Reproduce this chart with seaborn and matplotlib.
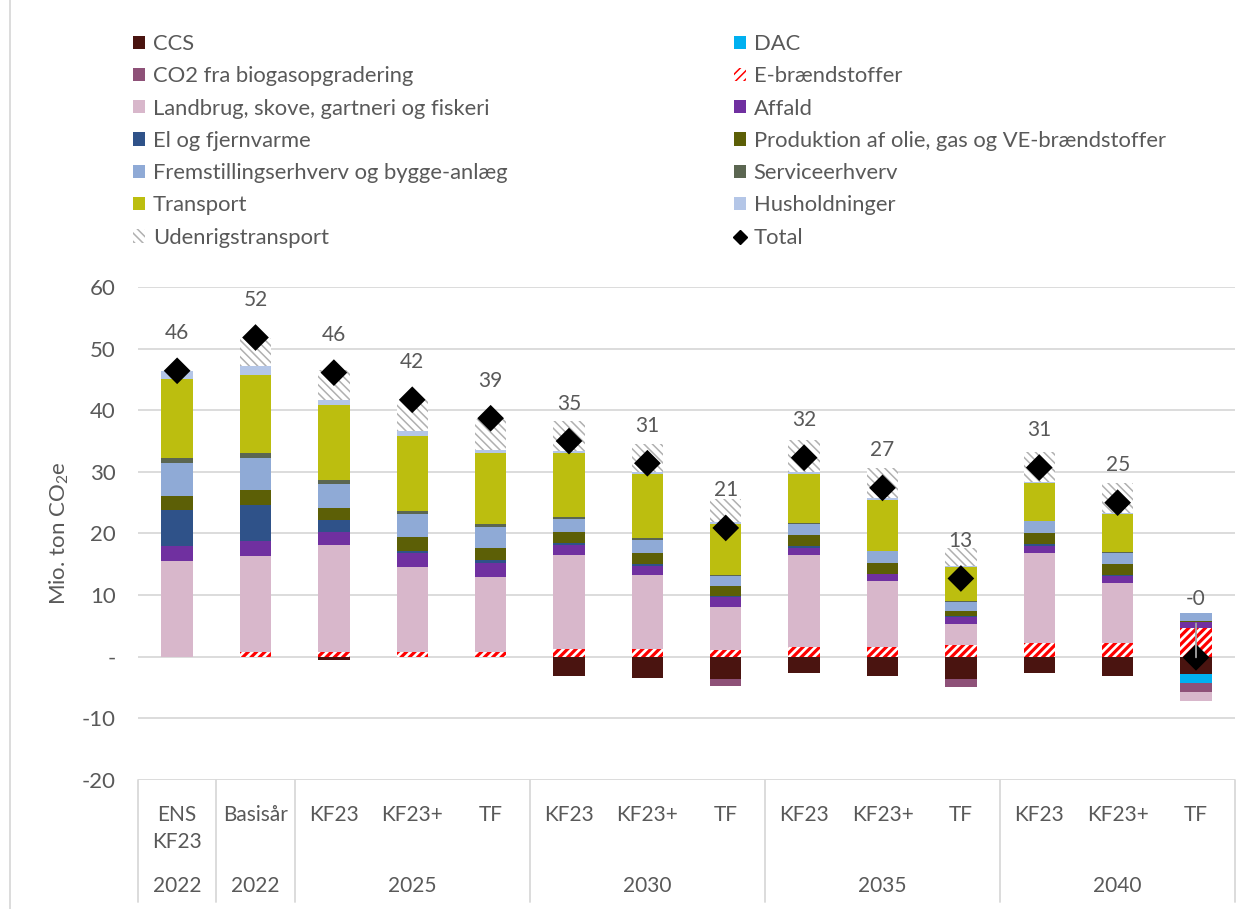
import numpy as np
import matplotlib
matplotlib.use("Agg")
import matplotlib.pyplot as plt
from matplotlib.patches import Patch
from matplotlib.lines import Line2D
from matplotlib.ticker import FuncFormatter
import seaborn as sns

# ── Data (Mio. ton CO2e) ──────────────────────────────────────────────────────
scenarios  = ["ENS\nKF23", "Basisår", "KF23", "KF23+", "TF", "KF23", "KF23+", "TF",
              "KF23", "KF23+", "TF", "KF23", "KF23+", "TF"]
years      = ["2022", "2022", "2025", "2030", "2035", "2040"]
year_sizes = [1, 1, 3, 3, 3, 3]

ccs        = [0, 0, -0.5, 0, 0, -3.2, -3.4, -3.6, -2.7, -3.2, -3.6, -2.7, -3.2, -2.8]
dac        = [0, 0, 0, 0, 0, 0, 0, 0, 0, 0, 0, 0, 0, -1.5]
biogas     = [0, 0, 0, 0, 0, 0, 0, -1.2, 0, 0, -1.3, 0, 0, -1.4]
e_fuel     = [0, 0.7, 0.7, 0.7, 0.7, 1.2, 1.2, 1.1, 1.6, 1.6, 1.9, 2.2, 2.2, 4.7]
landbrug   = [15.6, 15.6, 17.5, 13.9, 12.2, 15.3, 12.1, 7.0, 14.9, 10.7, 3.4, 14.7, 9.8, -1.5]
affald     = [2.4, 2.5, 2.1, 2.2, 2.3, 1.6, 1.5, 1.6, 1.2, 1.1, 1.2, 1.1, 1.1, 0.9]
el_fjv     = [5.8, 5.9, 1.9, 0.4, 0.5, 0.3, 0.2, 0.2, 0.2, 0.1, 0.1, 0.3, 0.1, 0.0]
olie_gas   = [2.3, 2.4, 2.0, 2.2, 2.0, 1.9, 1.9, 1.5, 1.8, 1.7, 0.9, 1.8, 1.8, 0.2]
fremst     = [5.4, 5.2, 3.9, 3.8, 3.4, 2.1, 2.1, 1.7, 1.9, 1.9, 1.4, 1.9, 1.9, 1.3]
service    = [0.7, 0.7, 0.5, 0.5, 0.5, 0.2, 0.2, 0.1, 0.1, 0.1, 0.1, 0.1, 0.1, 0.0]
transport  = [12.8, 12.7, 12.2, 12.2, 11.4, 10.4, 10.4, 8.4, 8.0, 8.2, 5.6, 6.1, 6.1, 0.0]
husholdn   = [1.4, 1.5, 0.9, 0.8, 0.6, 0.4, 0.3, 0.3, 0.3, 0.3, 0.2, 0.2, 0.2, 0.0]
udenrig    = [0, 4.5, 4.9, 5.0, 5.0, 4.8, 4.7, 3.7, 5.1, 4.9, 2.9, 4.9, 4.9, 0.0]
totals     = [46.4, 51.8, 46.1, 41.7, 38.7, 35.0, 31.4, 20.9, 32.3, 27.4, 12.7, 30.7, 25.0, -0.1]

series = [
    ("CCS", ccs),
    ("DAC", dac),
    ("CO2 fra biogasopgradering", biogas),
    ("E-brændstoffer", e_fuel),
    ("Landbrug, skove, gartneri og fiskeri", landbrug),
    ("Affald", affald),
    ("El og fjernvarme", el_fjv),
    ("Produktion af olie, gas og VE-brændstoffer", olie_gas),
    ("Fremstillingserhverv og bygge-anlæg", fremst),
    ("Serviceerhverv", service),
    ("Transport", transport),
    ("Husholdninger", husholdn),
    ("Udenrigstransport", udenrig),
]

# ── Styles ────────────────────────────────────────────────────────────────────
styles = {
    "CCS": dict(color="#4a1410"),
    "DAC": dict(color="#00b0f0"),
    "CO2 fra biogasopgradering": dict(color="#8e5178"),
    "E-brændstoffer": dict(color="white", edgecolor="#ff0000", hatch="////", hlw=2.3),
    "Landbrug, skove, gartneri og fiskeri": dict(color="#d8b7cb"),
    "Affald": dict(color="#7030a0"),
    "El og fjernvarme": dict(color="#2f5289"),
    "Produktion af olie, gas og VE-brændstoffer": dict(color="#5c5f06"),
    "Fremstillingserhverv og bygge-anlæg": dict(color="#8faad6"),
    "Serviceerhverv": dict(color="#5b6651"),
    "Transport": dict(color="#bcbe0f"),
    "Husholdninger": dict(color="#b4c6e7"),
    "Udenrigstransport": dict(color="white", edgecolor="#b0b0b0", hatch="\\\\\\\\", hlw=1.1),
}

TEXT = "#595959"
GRID = "#d9d9d9"

sns.set_theme(style="white")
plt.rcParams["font.family"] = ["Lato", "DejaVu Sans"]
plt.rcParams["mathtext.fontset"] = "custom"
plt.rcParams["mathtext.rm"] = "Lato"


def main():
    fig = plt.figure(figsize=(12.54, 9.09), dpi=100)
    ax = fig.add_axes([0.110, 0.1419, 0.875, 0.5424])

    n = len(scenarios)
    x = np.arange(n)
    pos_base = np.zeros(n)
    neg_base = np.zeros(n)

    # ── Stacked bars ──────────────────────────────────────────────────────────
    for name, vals in series:
        v = np.array(vals, dtype=float)
        st = styles[name]
        bottom = np.where(v >= 0, pos_base, neg_base)
        kw = dict(linewidth=0)
        if "hatch" in st:
            plt.rcParams["hatch.linewidth"] = st["hlw"]
            kw.update(edgecolor=st["edgecolor"], hatch=st["hatch"])
        sns.barplot(x=x, y=v, bottom=bottom, color=st["color"], saturation=1,
                    width=0.4, errorbar=None, ax=ax, **kw)
        if "hatch" in st:
            for p in ax.containers[-1]:
                if hasattr(p, "set_hatch_linewidth"):
                    p.set_hatch_linewidth(st["hlw"])
        pos_base += np.clip(v, 0, None)
        neg_base += np.clip(v, None, 0)

    # ── Totals ────────────────────────────────────────────────────────────────
    sns.scatterplot(x=x, y=totals, marker="D", s=185, color="black",
                    edgecolor="none", ax=ax, zorder=5, legend=False)
    for i, t in enumerate(totals):
        if i == n - 1:
            ax.annotate(f"{t:.0f}", (x[i], t), xytext=(0, 42), textcoords="offset points",
                        ha="center", va="center", fontsize=15, color=TEXT, zorder=6,
                        arrowprops=dict(arrowstyle="-", color="#a6a6a6", lw=1.3,
                                        shrinkA=8, shrinkB=0))
        else:
            ax.annotate(f"{t:.0f}", (x[i], t), xytext=(0, 27), textcoords="offset points",
                        ha="center", va="center", fontsize=15, color=TEXT)

    # ── Axes ──────────────────────────────────────────────────────────────────
    ax.set_ylim(-20, 60)
    ax.set_xlim(-0.5, n - 0.5)
    ax.set_yticks(np.arange(-20, 61, 10))
    ax.yaxis.set_major_formatter(FuncFormatter(lambda v, _: "-" if v == 0 else f"{v:.0f}"))
    ax.yaxis.grid(True, color=GRID, lw=1.3)
    ax.set_axisbelow(True)
    for s in ax.spines.values():
        s.set_visible(False)
    ax.tick_params(axis="y", length=0, pad=16, labelsize=16, labelcolor=TEXT)
    ax.set_ylabel("Mio. ton CO$\\mathregular{_2}$e", fontsize=16, color=TEXT, labelpad=8)

    ax.set_xticks(x)
    ax.set_xticklabels(scenarios, linespacing=1.45)
    ax.tick_params(axis="x", length=0, pad=18, labelsize=15, labelcolor=TEXT)
    ax.set_xlabel("")

    # year row + separators
    xt = ax.get_xaxis_transform()
    edges = np.concatenate([[0], np.cumsum(year_sizes)]) - 0.5
    for e in edges:
        ax.plot([e, e], [0, -0.2475], transform=xt, color=GRID, lw=1.3, clip_on=False)
    for yr, a, b in zip(years, edges[:-1], edges[1:]):
        ax.text((a + b) / 2, -0.215, yr, transform=xt, ha="center", va="center",
                fontsize=15, color=TEXT)

    # chart frame (left edge visible)
    fig.add_artist(Line2D([10 / 1254, 10 / 1254], [0, 1], color=GRID, lw=1.3))

    # ── Legend ────────────────────────────────────────────────────────────────
    def handle(name):
        st = styles[name]
        if "hatch" in st:
            return Patch(facecolor="white", edgecolor=st["edgecolor"], hatch=st["hatch"], lw=0)
        return Patch(facecolor=st["color"], lw=0)

    names = [s[0] for s in series]
    col1 = names[0::2]
    col2 = names[1::2]
    h1 = [handle(nm) for nm in col1]
    h2 = [handle(nm) for nm in col2] + [
        Line2D([], [], marker="D", color="black", ls="none", markersize=7)]
    l2 = col2 + ["Total"]

    common = dict(loc="upper left", frameon=False, fontsize=15.8, labelcolor=TEXT,
                  handlelength=0.55, handleheight=0.55, handletextpad=0.35,
                  labelspacing=0.56, borderpad=0, borderaxespad=0)
    fig.legend(h1, col1, bbox_to_anchor=(133 / 1254, 1 - 34 / 909), **common)
    fig.legend(h2, l2, bbox_to_anchor=(734 / 1254, 1 - 34 / 909), **common)

    plt.savefig("out.png", dpi=100)


if __name__ == "__main__":
    main()
